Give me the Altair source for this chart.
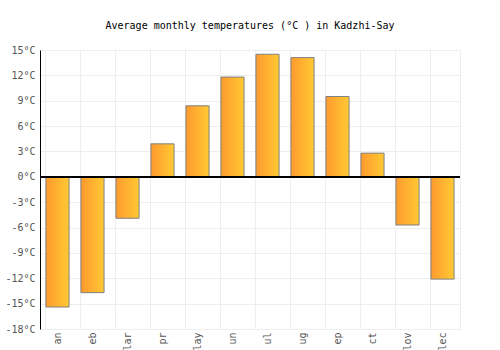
import altair as alt
import pandas as pd

months = ["an", "eb", "lar", "pr", "lay", "un", "ul", "ug", "ep", "ct", "lov", "lec"]
temps = [-15.4, -13.7, -4.9, 3.9, 8.4, 11.8, 14.5, 14.1, 9.5, 2.8, -5.7, -12.1]
y_ticks = list(range(-18, 16, 3))

df = pd.DataFrame({"month": months, "temp": temps})
FONT = "DejaVu Sans Mono"

xscale = alt.Scale(domain=months, paddingInner=0.34, paddingOuter=0.17)
yscale = alt.Scale(domain=[-18, 15], nice=False)

yaxis = alt.Axis(values=y_ticks, tickCount=len(y_ticks) + 4, grid=True,
                 gridColor="#eeeeee", ticks=False,
                 domain=True, domainColor="#000000", title=None,
                 labelExpr="datum.value + '°C'", labelFont=FONT,
                 labelOverlap=False, labelFlush=False,
                 labelFontSize=10, labelColor="#555555", labelPadding=5)

bars = alt.Chart(df).mark_bar(
    color=alt.Gradient(gradient="linear",
                       stops=[alt.GradientStop(color="#ff9a2e", offset=0),
                              alt.GradientStop(color="#ffc933", offset=1)],
                       x1=0, x2=1, y1=0, y2=0),
    stroke="#808080", strokeWidth=1,
).encode(
    x=alt.X("month:N", sort=months, scale=xscale,
            axis=alt.Axis(orient="bottom", grid=False, ticks=False, domain=False,
                          title=None, labelAngle=270, labelFont=FONT, labelFontSize=10,
                          labelColor="#555555", labelPadding=3)),
    y=alt.Y("temp:Q", scale=yscale, axis=yaxis),
)

grid = alt.Chart(df).mark_bar(opacity=0).encode(
    x=alt.X("month:N", sort=months, scale=xscale,
            axis=alt.Axis(orient="bottom", grid=True, bandPosition=0, labels=False,
                          ticks=False, domain=False, title=None, gridColor="#eeeeee")),
    y=alt.Y("temp:Q", scale=yscale, axis=yaxis),
)

zero = alt.Chart(df).mark_rule(color="#000000", strokeWidth=1, strokeCap="butt").encode(
    y=alt.datum(0, scale=yscale)
)

chart = alt.layer(bars, grid, zero).resolve_axis(x="independent").properties(
    width=420, height=279,
    autosize=alt.AutoSizeParams(type="none"),
    padding={"left": 40, "top": 50, "right": 40, "bottom": 21},
    title=alt.Title("Average monthly temperatures (°C ) in Kadzhi-Say",
                    font=FONT, fontSize=10, fontWeight="normal", color="#000000",
                    anchor="middle", offset=14),
).configure_view(stroke="#eeeeee")

chart.save("out.html", embed_options={"renderer": "svg", "actions": False})
